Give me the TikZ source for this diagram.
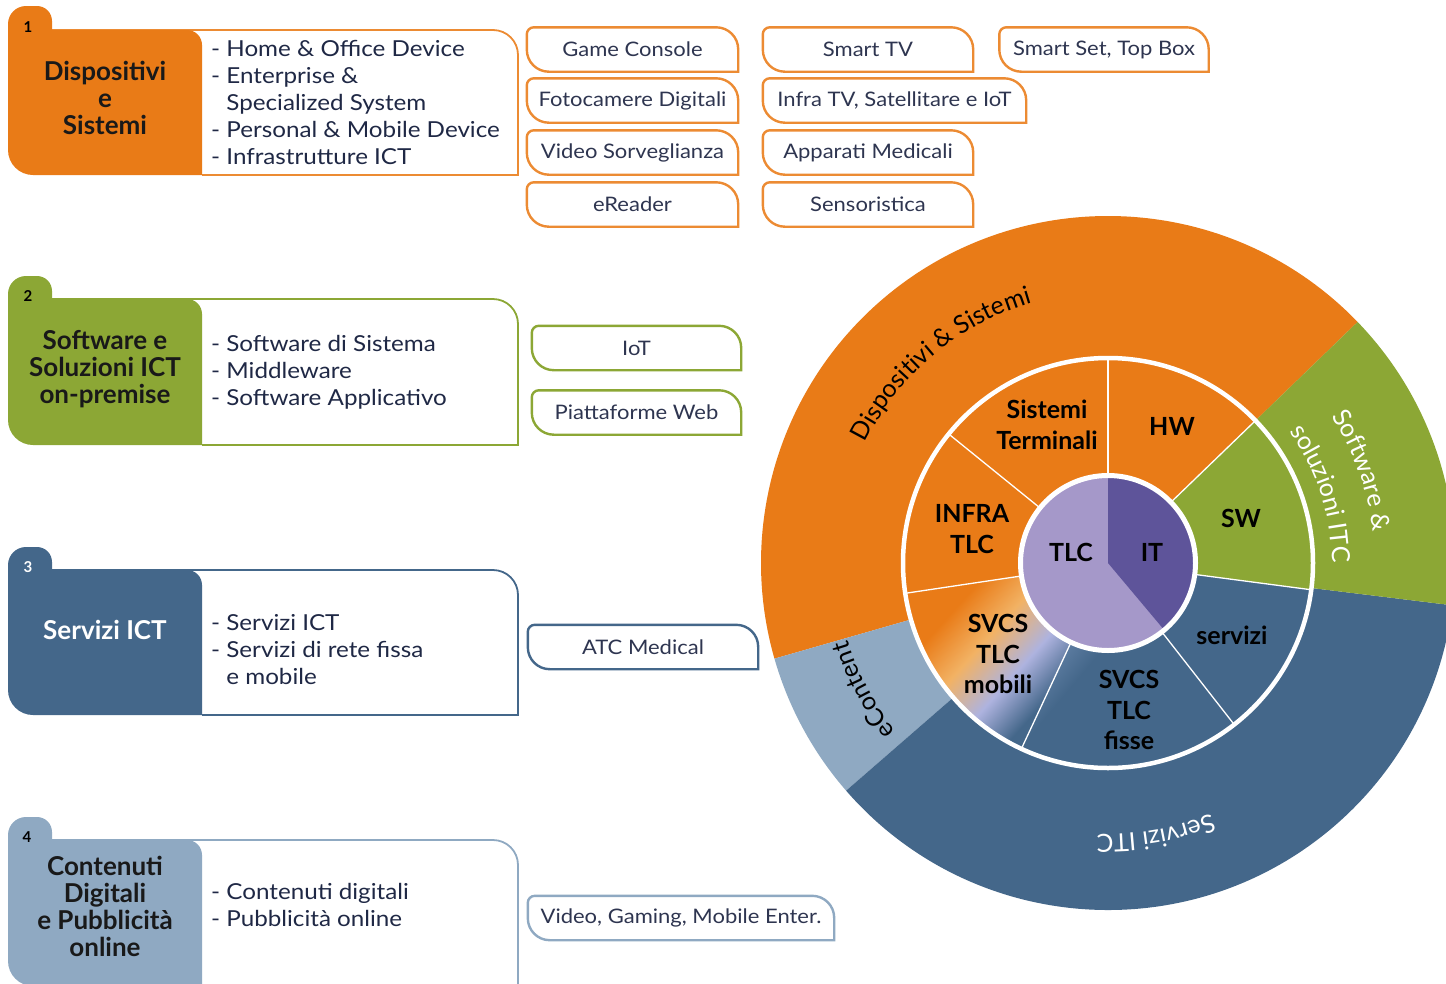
\documentclass[tikz,border=0pt]{standalone}
\usepackage{fontspec}
\setmainfont{Lato}
\newfontfamily\widefont[FakeStretch=1.1]{Lato}
\usetikzlibrary{decorations.text}
\definecolor{orng}{HTML}{E97B17}
\definecolor{orngline}{HTML}{EC8B33}
\definecolor{grn}{HTML}{8CA735}
\definecolor{dblu}{HTML}{44678A}
\definecolor{lblu}{HTML}{8FA9C2}
\definecolor{lpur}{HTML}{A598C9}
\definecolor{dpur}{HTML}{5E549A}
\definecolor{navy}{HTML}{1F2845}
\definecolor{tagtxt}{HTML}{2E3550}
\definecolor{peach}{HTML}{F2B264}
\definecolor{lav}{HTML}{AEB3DF}
\definecolor{midblu}{HTML}{6F8CB2}
\pgfdeclareverticalshading{mobshade}{100bp}{color(0bp)=(dblu); color(30bp)=(dblu); color(42bp)=(lav); color(55bp)=(peach); color(68bp)=(orng); color(100bp)=(orng)}
\pgfdeclareverticalshading{fisshade}{100bp}{color(0bp)=(dblu); color(62bp)=(dblu); color(80bp)=(midblu); color(100bp)=(midblu)}

\newcommand\mytag[6]{%
  \node[tagtext, minimum width=#4] (#1) at (#2,-#3) {#6};
  \draw[line width=2.4, #5] ([xshift=7]#1.north west) -- ([xshift=-22]#1.north east)
    arc[start angle=90,end angle=0,radius=22] -- (#1.south east) -- ([xshift=22]#1.south west)
    arc[start angle=270,end angle=180,radius=22] -- ([yshift=-7]#1.north west)
    arc[start angle=180,end angle=90,radius=7] -- cycle;
}
\newcommand\myblock[5]{%
  \fill[white] (52,-#2) -- (493,-#2) arc[start angle=90,end angle=0,radius=25] -- (518,-#3) -- (52,-#3) -- cycle;
  \draw[#5, line width=1.8] (52,-#2) -- (493,-#2) arc[start angle=90,end angle=0,radius=25] -- (518,-#3) -- (202,-#3);
  \fill[#4] (8,-#2) -- (8,-#1-18) arc[start angle=180,end angle=90,radius=18] -- (37,-#1)
    arc[start angle=90,end angle=0,radius=15] -- (52,-#2) -- (187,-#2)
    arc[start angle=90,end angle=0,radius=15] -- (202,-#3) -- (33,-#3)
    arc[start angle=270,end angle=180,radius=25] -- cycle;
}

\begin{document}
\begin{tikzpicture}[x=1pt,y=1pt,
  listtext/.style={anchor=west, align=left, inner sep=0, text=navy, font=\widefont\fontsize{22}{27}\selectfont},
  headtext/.style={align=center, inner sep=0, font=\bfseries\fontsize{26}{27}\selectfont, text=black!90},
  numtext/.style={inner sep=0, font=\bfseries\fontsize{15}{15}\selectfont},
  tagtext/.style={minimum height=44, inner sep=0, text=tagtxt, font=\widefont\fontsize{20}{20}\selectfont},
  ringtext/.style={align=center, inner sep=0, font=\bfseries\fontsize{25}{30.5}\selectfont, text=black},
  arctext/.style={decorate, decoration={text along path, text align=center, text color=#1}}
]
\useasboundingbox (0,0) rectangle (1446,-983);
\clip (0,0) rectangle (1446,-983);

% ---- blocks
\myblock{6}{30}{175}{orng}{orngline}
\myblock{276}{299}{445}{grn}{grn}
\myblock{547}{570}{715}{dblu}{dblu}
\myblock{817}{840}{986}{lblu}{lblu}

\node[numtext, text=black] (n1) at (28,-27) {1};
\node[numtext, text=black] (n2) at (28,-296) {2};
\node[numtext, text=white] (n3) at (28,-567) {3};
\node[numtext, text=black] (n4) at (27,-837) {4};

\node[headtext] (h1) at (105,-98) {Dispositivi\\e\\Sistemi};
\node[headtext] (h2) at (105,-369) {Software e\\Soluzioni ICT\\on-premise};
\node[headtext, text=white] (h3) at (105,-630) {Servizi ICT};
\node[headtext] (h4) at (105,-906) {Contenuti\\Digitali\\e Pubblicità\\online};

\node[listtext] (l1) at (211,-102) {- Home \& Office Device\\- Enterprise \&\\\phantom{- }Specialized System\\- Personal \& Mobile Device\\- Infrastrutture ICT};
\node[listtext] (l2) at (211,-372) {- Software di Sistema\\- Middleware\\- Software Applicativo};
\node[listtext] (l3) at (211,-650) {- Servizi ICT\\- Servizi di rete fissa\\\phantom{- }e mobile};
\node[listtext] (l4) at (211,-905) {- Contenuti digitali\\- Pubblicità online};

% ---- tags
\mytag{gc}{632.5}{49.5}{211}{orngline}{Game Console}
\mytag{fd}{632.5}{100.5}{211}{orngline}{Fotocamere Digitali}
\mytag{vs}{632.5}{152.5}{211}{orngline}{Video Sorveglianza}
\mytag{er}{632.5}{204.5}{211}{orngline}{eReader}
\mytag{stv}{868}{49.5}{210}{orngline}{Smart TV}
\mytag{itv}{894.5}{100.5}{263}{orngline}{Infra TV, Satellitare e IoT}
\mytag{am}{868}{152.5}{210}{orngline}{Apparati Medicali}
\mytag{sen}{868}{204.5}{210}{orngline}{Sensoristica}
\mytag{ss}{1104}{49.5}{209}{orngline}{Smart Set, Top Box}
\mytag{iot}{636.5}{348}{209}{grn}{IoT}
\mytag{pw}{636.5}{412.5}{209}{grn}{Piattaforme Web}
\mytag{atc}{643}{647}{230}{dblu}{ATC Medical}
\mytag{vg}{681}{918}{306}{lblu}{Video, Gaming, Mobile Enter.}

% ---- ring chart
\begin{scope}[shift={(1108,-563)}]
  \fill[orng] (0,0) -- (44:347) arc[start angle=44,end angle=196,radius=347] -- cycle;
  \fill[lblu] (0,0) -- (196:347) arc[start angle=196,end angle=221,radius=347] -- cycle;
  \fill[dblu] (0,0) -- (221:347) arc[start angle=221,end angle=353,radius=347] -- cycle;
  \fill[grn] (0,0) -- (-7:347) arc[start angle=-7,end angle=44,radius=347] -- cycle;

  \fill[orng] (0,0) -- (44:205) arc[start angle=44,end angle=188.5,radius=205] -- cycle;
  \fill[dblu] (0,0) -- (245:205) arc[start angle=245,end angle=352.5,radius=205] -- cycle;
  \shade[shading=fisshade, shading angle=50] (245:85) -- (245:205) arc[start angle=245,end angle=290,radius=205] -- (290:85) -- cycle;
  \shade[shading=mobshade, shading angle=48] (188.5:85) -- (188.5:205) arc[start angle=188.5,end angle=245,radius=205] -- (245:85) -- cycle;
  \fill[grn] (0,0) -- (-7.5:205) arc[start angle=-7.5,end angle=44,radius=205] -- cycle;
  \foreach \a in {44,90,141,188.5,245,308,352.5} \draw[white, line width=1.3] (\a:85) -- (\a:205);
  \draw[white, line width=4.5] (0,0) circle[radius=205];

  \fill[lpur] (0,0) circle[radius=86];
  \fill[dpur] (0,0) -- (-50:86) arc[start angle=-50,end angle=90,radius=86] -- cycle;
  \draw[white, line width=5] (0,0) circle[radius=87.5];

  \path[arctext=black, decoration={text={|\fontsize{25}{25}\selectfont|Dispositivi {\&} Sistemi}}] (162:271) arc[start angle=162,end angle=98,radius=271];
  \path[arctext=white, decoration={text={|\fontsize{25}{25}\selectfont|Software {\&}}}] (40:267) arc[start angle=40,end angle=0,radius=267];
  \path[arctext=white, decoration={text={|\fontsize{25}{25}\selectfont|soluzioni ITC}}] (40:224) arc[start angle=40,end angle=-4,radius=224];
  \path[arctext=black, decoration={text={|\fontsize{25}{25}\selectfont|eContent}}] (227.5:271) arc[start angle=227.5,end angle=187.5,radius=271];
  \path[arctext=white, decoration={text={|\fontsize{25}{25}\selectfont|Servizi ITC}}] (305:271) arc[start angle=305,end angle=255,radius=271];
\end{scope}

\node[ringtext] (st) at (1047,-425) {Sistemi\\Terminali};
\node[ringtext] (hw) at (1172,-426) {HW};
\node[ringtext] (infra) at (972,-529) {INFRA\\TLC};
\node[ringtext] (sw) at (1241,-518) {SW};
\node[ringtext] (tlc) at (1071,-552) {TLC};
\node[ringtext] (it) at (1152,-552) {IT};
\node[ringtext] (mob) at (998,-654) {SVCS\\TLC\\mobili};
\node[ringtext] (serv) at (1232,-635) {servizi};
\node[ringtext] (fis) at (1129,-710) {SVCS\\TLC\\fisse};
\end{tikzpicture}
\end{document}
